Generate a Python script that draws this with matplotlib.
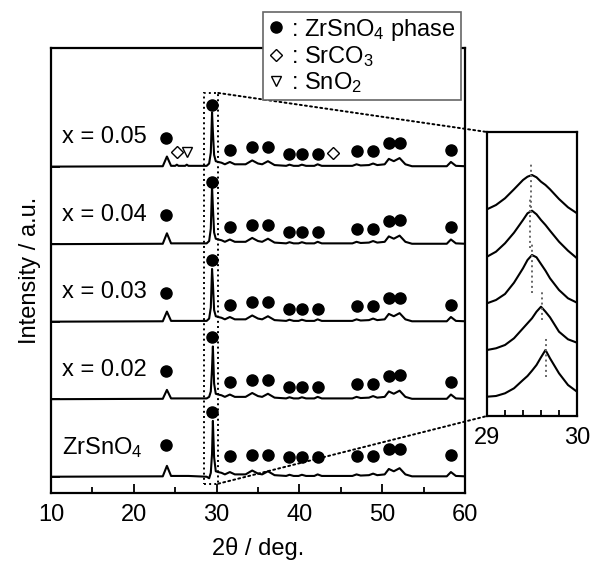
import numpy as np
import matplotlib
matplotlib.use("Agg")
import matplotlib.pyplot as plt
from matplotlib.lines import Line2D
from matplotlib.patches import Rectangle, ConnectionPatch

plt.rcParams['font.family'] = ['Liberation Sans', 'DejaVu Sans']
plt.rcParams['mathtext.default'] = 'regular'

# ---- main XRD patterns (vertices, a.u., baseline = 0)
two_theta = [10, 23.5, 24.0, 24.5, 25.0, 25.2, 25.4, 26.2, 26.4, 26.6, 28.8, 29.1, 29.3,
             29.45, 29.55, 29.7, 29.9, 30.2, 30.6, 31.0, 31.6, 32.2, 33.5, 34.3, 35.0,
             35.5, 36.2, 37.0, 38.4, 38.8, 39.3, 39.9, 40.3, 40.8, 41.8, 42.2, 42.7,
             46.4, 46.9, 47.4, 48.4, 48.9, 49.4, 50.3, 50.8, 51.4, 52.1, 52.8, 53.6,
             57.8, 58.3, 58.9, 60]

int_005 = [0, 0.5, 13, 1, 1, 2.5, 1, 1, 2.5, 1, 1, 4, 18,
           70, 45, 15, 7, 6, 5, 3, 6, 3, 3, 8, 4,
           3, 7, 2, 1, 2.5, 1, 1, 2.5, 1, 1, 3, 1,
           1, 3, 1.5, 2, 4, 2, 3, 10, 7, 11, 3, 0.5,
           0.5, 6, 1, 0.5]
int_004 = [0, 0.5, 14, 1, 1, 1, 1, 1, 1, 1, 1, 4, 20,
           75, 48, 15, 7, 6, 5, 3, 6, 3, 3, 8, 4,
           3, 7, 2, 1, 2.5, 1, 1, 2.5, 1, 1, 3, 1,
           1, 3, 1.5, 2, 4, 2, 3, 10, 7, 11, 3, 0.5,
           0.5, 6, 1, 0.5]
int_003 = [0, 0.5, 13, 1, 1, 1, 1, 1, 1, 1, 1, 4, 18,
           68, 50, 15, 7, 6, 5, 3, 6, 3, 3, 8, 4,
           3, 7, 2, 1, 2.5, 1, 1, 2.5, 1, 1, 3, 1,
           1, 3, 1.5, 2, 4, 2, 3, 10, 7, 11, 3, 0.5,
           0.5, 6, 1, 0.5]
int_002 = [0, 0.5, 12, 1, 1, 1, 1, 1, 1, 1, 1, 3, 10,
           40, 68, 20, 7, 6, 5, 3, 6, 3, 3, 8, 4,
           3, 7, 2, 1, 2.5, 1, 1, 2.5, 1, 1, 3, 1,
           1, 3, 1.5, 2, 4, 2, 3, 10, 7, 11, 3, 0.5,
           0.5, 6, 1, 0.5]
int_zr = [0, 0.5, 14, 1, 1, 1, 1, 1, 1, 1, 0, -2, 5,
          30, 72, 25, 7, 6, 5, 3, 6, 3, 3, 8, 4,
          3, 7, 2, 1, 2.5, 1, 1, 2.5, 1, 1, 3, 1,
          1, 3, 1.5, 2, 4, 2, 3, 10, 7, 11, 3, 0.5,
          0.5, 6, 1, 0.5]

patterns = [int_zr, int_002, int_003, int_004, int_005]
sample_labels = ['ZrSnO$_4$', 'x = 0.02', 'x = 0.03', 'x = 0.04', 'x = 0.05']
offsets = [0, 100, 200, 300, 400]

# ZrSnO4 phase peak marks (2theta) and their heights above each baseline
zr_peaks = [23.9, 29.45, 31.6, 34.3, 36.2, 38.8, 40.3, 42.2, 46.9, 48.9, 50.8, 52.1, 58.3]
mark_h_std = [37, 80, 22, 25, 25, 16, 16, 16, 20, 20, 30, 31, 22]
mark_h_zr = [41, 84, 27, 28, 28, 25, 25, 25, 27, 27, 36, 36, 28]
mark_heights = [mark_h_zr, mark_h_std, mark_h_std, mark_h_std, mark_h_std]

# impurity marks in x = 0.05
srco3_pos = [25.2, 44.1]
srco3_h = [19, 18]
sno2_pos = [26.4]
sno2_h = [19]

# ---- inset: 29-30 deg region (a.u.)
inset_tt = [29.0, 29.1, 29.2, 29.3, 29.4, 29.45, 29.5, 29.55, 29.6, 29.65, 29.7, 29.8, 29.9, 30.0]
inset_005 = [206.7, 211.0, 217.7, 226.7, 236.0, 239.3, 241.0, 238.7, 234.3, 231.0, 226.7, 217.0, 208.7, 202.7]
inset_004 = [159.3, 164.3, 172.7, 183.3, 196.0, 202.7, 205.3, 201.7, 196.0, 191.0, 185.3, 174.3, 165.3, 157.7]
inset_003 = [112.7, 116.0, 122.0, 133.3, 147.7, 156.0, 161.0, 158.7, 152.0, 145.3, 137.7, 126.0, 117.7, 113.3]
inset_002 = [66.0, 67.7, 71.0, 77.7, 87.7, 92.7, 97.7, 104.3, 109.3, 104.3, 98.7, 84.3, 76.7, 73.3]
inset_zr = [19.3, 20.0, 22.7, 27.7, 36.0, 40.0, 45.3, 51.0, 58.7, 66.0, 57.7, 42.7, 31.0, 24.3]
inset_curves = [inset_005, inset_004, inset_003, inset_002, inset_zr]

peak_pos = [29.49, 29.48, 29.50, 29.61, 29.66]
peak_line_top = [254, 219, 174, 126, 78]
peak_line_bot = [203, 168, 123, 96, 39]

fig = plt.figure(figsize=(5.9, 5.65), dpi=100)
ax = fig.add_axes([51 / 590, 1 - 493 / 565, 414 / 590, 445 / 565])

for y, off in zip(patterns, offsets):
    ax.plot(two_theta, np.array(y) + off, color='k', lw=1.5)

for lab, off, hs in zip(sample_labels, offsets, mark_heights):
    ax.text(11.3, off + 38, lab, fontsize=17, va='center', ha='left')
    ax.plot(zr_peaks, np.array(hs) + off, 'o', color='k', ms=8, ls='none')

ax.plot(srco3_pos, np.array(srco3_h) + 400, 'D', mfc='white', mec='k', mew=1, ms=6, ls='none')
ax.plot(sno2_pos, np.array(sno2_h) + 400, 'v', mfc='white', mec='k', mew=1, ms=7, ls='none')

ax.set_xlim(10, 60)
ax.set_ylim(-21, 553)
ax.set_xticks([10, 20, 30, 40, 50, 60])
ax.set_xticks([15, 25, 35, 45, 55], minor=True)
ax.set_yticks(offsets)
ax.set_yticklabels([])
ax.tick_params(axis='both', which='major', direction='in', length=6.5, width=1.3, labelsize=17)
ax.tick_params(axis='x', which='minor', direction='in', length=4.5, width=1.3)
ax.tick_params(axis='x', pad=8)
for s in ax.spines.values():
    s.set_linewidth(1.6)
ax.set_xlabel('2θ / deg.', fontsize=17, labelpad=8)
ax.set_ylabel('Intensity / a.u.', fontsize=17, labelpad=4)

# dotted box around the main peak
box = Rectangle((28.5, -9), 1.7, 504, fill=False, ls=':', lw=1.4, ec='k')
ax.add_patch(box)

# inset
axi = fig.add_axes([487 / 590, 1 - 416 / 565, 90 / 590, 284 / 565])
for y in inset_curves:
    axi.plot(inset_tt, y, color='k', lw=1.5)
for p, t, b in zip(peak_pos, peak_line_top, peak_line_bot):
    axi.plot([p, p], [b, t], color='#666666', ls=':', lw=1.4)
axi.set_xlim(29, 30)
axi.set_ylim(0, 284)
axi.set_xticks([29, 30])
axi.set_xticklabels(['29', '30'])
axi.set_xticks([29.2, 29.4, 29.6, 29.8], minor=True)
axi.set_yticks([])
axi.tick_params(axis='x', which='both', direction='in', length=4, width=1.3, labelsize=17, pad=8)
for s in axi.spines.values():
    s.set_linewidth(1.6)

for pa, pb in [((30.2, 495), (0, 1)), ((30.2, -9), (0, 0))]:
    con = ConnectionPatch(xyA=pa, coordsA='data', axesA=ax,
                          xyB=pb, coordsB='axes fraction', axesB=axi,
                          ls=':', lw=1.4, color='k')
    fig.add_artist(con)

handles = [Line2D([], [], marker='o', color='k', ls='none', ms=8),
           Line2D([], [], marker='D', mfc='white', mec='k', mew=1, ls='none', ms=6),
           Line2D([], [], marker='v', mfc='white', mec='k', mew=1, ls='none', ms=7)]
labels = [': ZrSnO$_4$ phase', ': SrCO$_3$', ': SnO$_2$']
leg = fig.legend(handles, labels, loc='upper left', bbox_to_anchor=(263 / 590, 1 - 12 / 565),
                 fontsize=17, frameon=True, fancybox=False, framealpha=1,
                 edgecolor='#666666', handlelength=0.7, handletextpad=0.3,
                 labelspacing=0.05, borderpad=0.2, borderaxespad=0)
leg.get_frame().set_linewidth(1.2)

fig.savefig('out.png', dpi=100)
